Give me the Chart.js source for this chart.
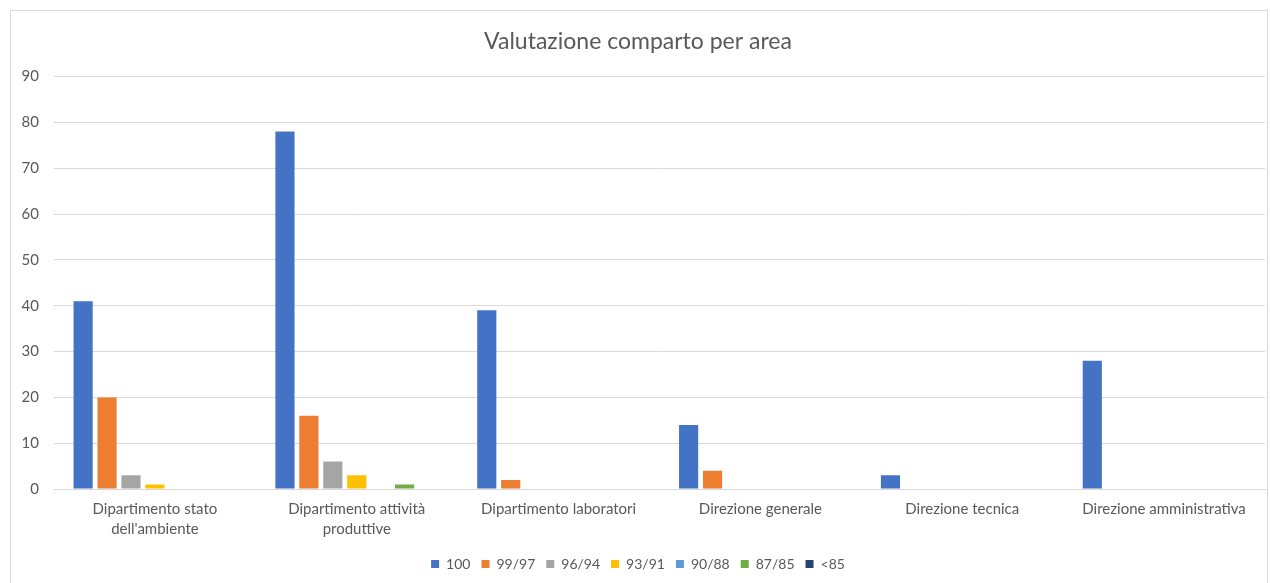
<!DOCTYPE html>
<html>
<head>
<meta charset="utf-8">
<script src="https://cdn.jsdelivr.net/npm/chart.js@4/dist/chart.umd.min.js"></script>
<style>
  body { margin: 0; background: #fff; }
  #wrap { position: absolute; left: 10px; top: 10px; width: 1258px; height: 580px; border: 1px solid #d9d9d9; box-sizing: border-box; }
  #chart { display: block; }
</style>
</head>
<body>
<div id="wrap"><canvas id="chart" width="1256" height="578"></canvas></div>
<script>
const aree = [
    ['Dipartimento stato', "dell'ambiente"],
    ['Dipartimento attività', 'produttive'],
    'Dipartimento laboratori',
    'Direzione generale',
    'Direzione tecnica',
    'Direzione amministrativa'
];
const fasce = ['100', '99/97', '96/94', '93/91', '90/88', '87/85', '<85'];
const colori = ['#4472C4', '#ED7D31', '#A5A5A5', '#FFC000', '#5B9BD5', '#70AD47', '#264478'];

const val100 = [41, 78, 39, 14, 3, 28];
const val99_97 = [20, 16, 2, 4, 0, 0];
const val96_94 = [3, 6, 0, 0, 0, 0];
const val93_91 = [1, 3, 0, 0, 0, 0];
const val90_88 = [0, 0, 0, 0, 0, 0];
const val87_85 = [0, 1, 0, 0, 0, 0];
const valSotto85 = [0, 0, 0, 0, 0, 0];

const serie = [val100, val99_97, val96_94, val93_91, val90_88, val87_85, valSotto85];
const yTicks = [0, 10, 20, 30, 40, 50, 60, 70, 80, 90];

const grigio = '#595959';
const font = 'Lato, "Open Sans", sans-serif';

const ctx = document.getElementById('chart').getContext('2d');
new Chart(ctx, {
    type: 'bar',
    data: {
        labels: aree,
        datasets: fasce.map((f, i) => ({
            label: f,
            data: serie[i],
            backgroundColor: colori[i],
            borderWidth: 0,
            categoryPercentage: 0.83,
            barPercentage: 0.8
        }))
    },
    options: {
        responsive: false,
        animation: false,
        layout: { padding: { left: 0, right: 2, top: 0, bottom: 8 } },
        plugins: {
            title: {
                display: true,
                text: 'Valutazione comparto per area',
                color: grigio,
                font: { family: font, size: 23, weight: 'normal' },
                padding: { top: 17, bottom: 21 }
            },
            legend: {
                position: 'bottom',
                labels: {
                    color: grigio,
                    font: { family: font, size: 14 },
                    boxWidth: 8,
                    boxHeight: 8,
                    padding: 11
                }
            },
            tooltip: { enabled: false }
        },
        scales: {
            x: {
                afterFit: axis => { axis.height += 5; },
                grid: { display: false },
                border: { color: '#d9d9d9', width: 1 },
                ticks: {
                    color: grigio,
                    font: { family: font, size: 15, lineHeight: 1.33 },
                    maxRotation: 0,
                    autoSkip: false,
                    padding: 2
                }
            },
            y: {
                min: 0,
                max: 90,
                afterBuildTicks: axis => { axis.ticks = yTicks.map(v => ({ value: v })); },
                afterFit: axis => { axis.width = 43; },
                grid: { color: '#d9d9d9', drawTicks: false },
                border: { display: false },
                ticks: {
                    color: grigio,
                    font: { family: font, size: 15 },
                    padding: 15
                }
            }
        }
    }
});
</script>
</body>
</html>
